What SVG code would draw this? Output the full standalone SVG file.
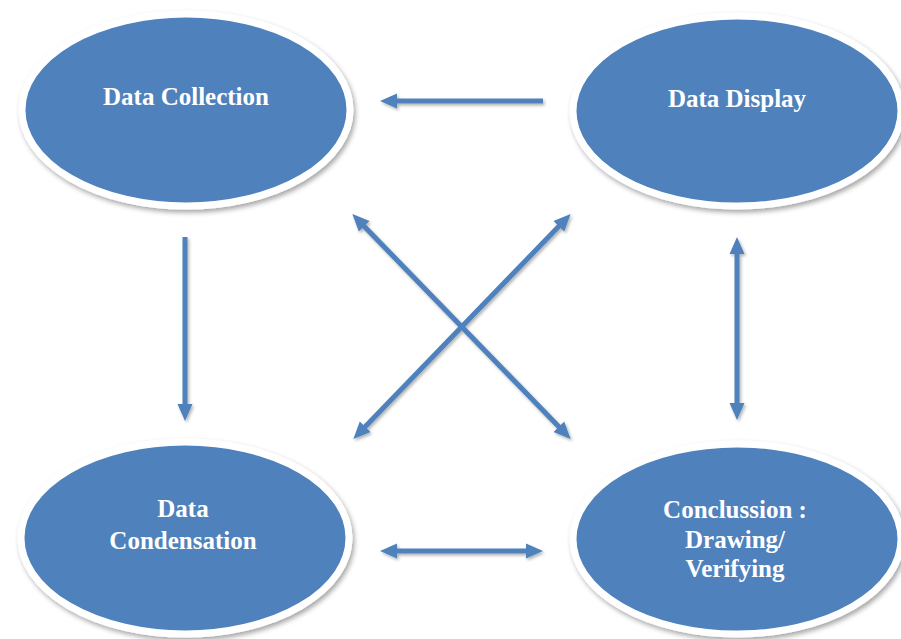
<svg xmlns="http://www.w3.org/2000/svg" width="901" height="639" viewBox="0 0 901 639">
<defs>
<filter id="sh" x="-10%" y="-10%" width="125%" height="130%">
<feDropShadow dx="2" dy="3" stdDeviation="2.5" flood-color="#000" flood-opacity="0.35"/>
</filter>
<filter id="ash" x="-20%" y="-20%" width="140%" height="140%">
<feDropShadow dx="1.5" dy="2" stdDeviation="1.5" flood-color="#000" flood-opacity="0.3"/>
</filter>
<marker id="ah" markerUnits="userSpaceOnUse" markerWidth="18" markerHeight="18" viewBox="0 0 18 18" refX="6" refY="9" orient="auto-start-reverse">
<path d="M0,1.5 L17,9 L0,16.5 z" fill="#4F81BD"/>
</marker>
</defs>
<style>
.node ellipse{fill:#4F81BD;stroke:#fff;stroke-width:7;filter:url(#sh)}
.node text{font-family:"Liberation Serif","Times New Roman",serif;font-weight:bold;font-size:25px;fill:#fff;text-anchor:middle}
.conn line{stroke:#4F81BD;stroke-width:5;fill:none}
</style>
<rect width="901" height="639" fill="#fff"/>
<g class="conn" filter="url(#ash)">
<line x1="543" y1="101" x2="391" y2="101" marker-end="url(#ah)"/>
<line x1="185" y1="237" x2="185" y2="410" marker-end="url(#ah)"/>
<line x1="737" y1="248" x2="737" y2="409" marker-start="url(#ah)" marker-end="url(#ah)"/>
<line x1="391" y1="551" x2="532" y2="551" marker-start="url(#ah)" marker-end="url(#ah)"/>
<line x1="360" y1="222" x2="563" y2="431" marker-start="url(#ah)" marker-end="url(#ah)"/>
<line x1="563" y1="222" x2="361" y2="431" marker-start="url(#ah)" marker-end="url(#ah)"/>
</g>
<g id="data-collection" class="node">
<ellipse cx="186" cy="110" rx="164" ry="96"/>
<text x="186" y="105">Data Collection</text>
</g>
<g id="data-display" class="node">
<ellipse cx="737" cy="111" rx="164" ry="95"/>
<text x="737" y="107">Data Display</text>
</g>
<g id="data-condensation" class="node">
<ellipse cx="185" cy="538" rx="164" ry="96"/>
<text x="183" y="517">Data</text>
<text x="183" y="549">Condensation</text>
</g>
<g id="conclusion" class="node">
<ellipse cx="737" cy="539" rx="164" ry="95"/>
<text x="735" y="518">Conclussion :</text>
<text x="735" y="548">Drawing/</text>
<text x="735" y="577">Verifying</text>
</g>
</svg>
